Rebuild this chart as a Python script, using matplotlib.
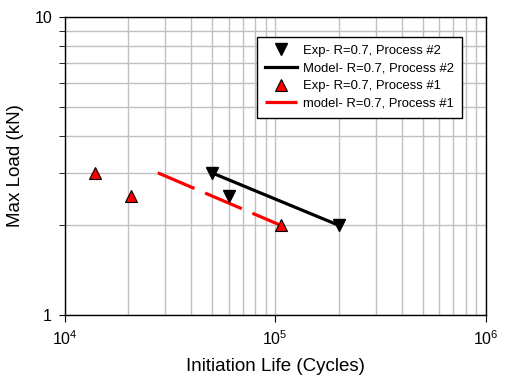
import matplotlib.pyplot as plt
from matplotlib.ticker import LogLocator, NullFormatter, FixedLocator

# data
exp2_x = [5.0e4, 6.0e4, 2.0e5]
exp2_y = [3.0, 2.5, 2.0]
model2_x = [5.0e4, 2.0e5]
model2_y = [3.0, 2.0]
exp1_x = [1.4e4, 2.07e4, 1.07e5]
exp1_y = [3.0, 2.5, 2.0]
model1_x = [2.77e4, 1.06e5]
model1_y = [3.0, 2.0]

plt.rcParams['font.family'] = ['Liberation Sans', 'DejaVu Sans']
plt.rcParams['mathtext.fontset'] = 'custom'
plt.rcParams['mathtext.rm'] = 'Liberation Sans'
plt.rcParams['mathtext.it'] = 'Liberation Sans'

fig = plt.figure(figsize=(5.25, 3.79), dpi=100)
ax = fig.add_axes([0.1229, 0.1689, 0.8029, 0.7862])

ax.plot(exp2_x, exp2_y, linestyle='none', marker='v', color='black',
        markersize=8, label='Exp- R=0.7, Process #2', zorder=4)
ax.plot(model2_x, model2_y, color='black', linewidth=2.3,
        label='Model- R=0.7, Process #2', zorder=3)
ax.plot(exp1_x, exp1_y, linestyle='none', marker='^', color='red',
        markeredgecolor='black', markeredgewidth=0.8, markersize=8,
        label='Exp- R=0.7, Process #1', zorder=4)
ax.plot(model1_x, model1_y, color='red', linewidth=2.3, dashes=(12.5, 3.6),
        label='model- R=0.7, Process #1', zorder=3)

ax.set_xscale('log')
ax.set_yscale('log')
ax.set_xlim(1e4, 1e6)
ax.set_ylim(1, 10)

ax.xaxis.set_major_locator(FixedLocator([1e4, 1e5, 1e6]))
ax.xaxis.set_minor_locator(LogLocator(base=10, subs=range(2, 10)))
ax.xaxis.set_minor_formatter(NullFormatter())
ax.yaxis.set_major_locator(FixedLocator([1, 10]))
ax.yaxis.set_major_formatter(plt.FuncFormatter(lambda v, p: '%d' % v))
ax.yaxis.set_minor_locator(LogLocator(base=10, subs=range(2, 10)))
ax.yaxis.set_minor_formatter(NullFormatter())

ax.grid(which='both', color='#c0c0c0', linewidth=1)
ax.set_axisbelow(True)
ax.tick_params(axis='x', which='major', direction='out', length=5, labelsize=11.5, pad=5)
ax.tick_params(axis='x', which='minor', length=0)
ax.tick_params(axis='y', which='major', direction='out', length=4, labelsize=11.5, pad=5)
ax.tick_params(axis='y', which='minor', direction='out', length=4)
for s in ax.spines.values():
    s.set_linewidth(1)
    s.set_color('black')

ax.set_xlabel('Initiation Life (Cycles)', fontsize=13.5)
ax.xaxis.set_label_coords(0.5, -0.145)
ax.set_ylabel('Max Load (kN)', fontsize=13.5)
ax.yaxis.set_label_coords(-0.095, 0.5)

leg = ax.legend(loc='upper right', bbox_to_anchor=(0.943, 0.933), fontsize=9.4,
                frameon=True, fancybox=False, edgecolor='black', framealpha=1,
                handlelength=2.5, labelspacing=0.42, borderpad=0.6,
                handletextpad=0.45, borderaxespad=0)
leg.get_frame().set_linewidth(1)

fig.savefig('out.png', dpi=100)
